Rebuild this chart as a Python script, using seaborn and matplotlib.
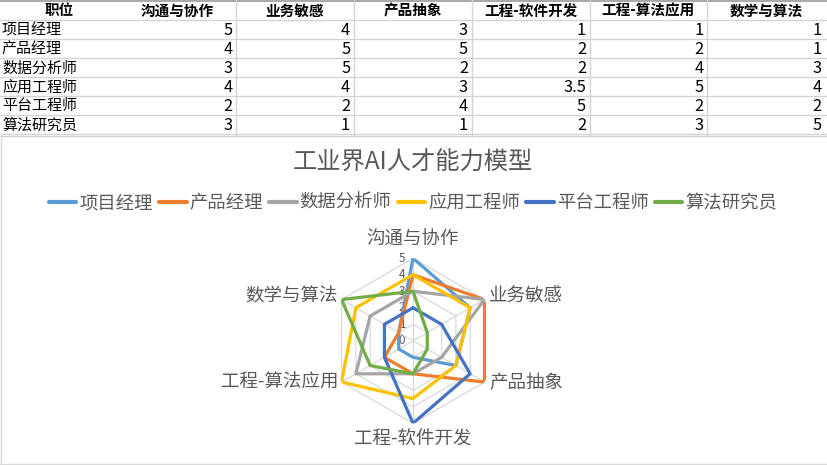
import numpy as np
import pandas as pd
import matplotlib
matplotlib.use("Agg")
import matplotlib.pyplot as plt
import seaborn as sns

# ---------------- data ----------------
columns = ["沟通与协作", "业务敏感", "产品抽象", "工程-软件开发", "工程-算法应用", "数学与算法"]
roles = ["项目经理", "产品经理", "数据分析师", "应用工程师", "平台工程师", "算法研究员"]
pm_vals = [5, 4, 3, 1, 1, 1]
prod_vals = [4, 5, 5, 2, 2, 1]
da_vals = [3, 5, 2, 2, 4, 3]
app_vals = [4, 4, 3, 3.5, 5, 4]
plat_vals = [2, 2, 4, 5, 2, 2]
algo_vals = [3, 1, 1, 2, 3, 5]
series = [pm_vals, prod_vals, da_vals, app_vals, plat_vals, algo_vals]
colors = ["#5B9BD5", "#ED7D31", "#A5A5A5", "#FFC000", "#4472C4", "#70AD47"]
title = "工业界AI人才能力模型"
header_first = "职位"
rticks = [0, 1, 2, 3, 4, 5]

sns.set_theme(style="white")
plt.rcParams["font.family"] = ["Noto Sans CJK SC", "DejaVu Sans"]

W, H = 827, 465
fig = plt.figure(figsize=(W / 100, H / 100), dpi=100)
fig.patch.set_facecolor("white")

# background axes in pixel coordinates (table + labels)
bg = fig.add_axes([0, 0, 1, 1])
bg.set_xlim(0, W)
bg.set_ylim(H, 0)
bg.axis("off")

# ---------------- table ----------------
col_w = 117.9
row_h = 19
head_h = 20
grid_c = "#D4D4D4"
nrows = len(roles)
table_bottom = head_h + nrows * row_h
bg.plot([0, W], [0.8, 0.8], color="#9A9A9A", lw=1.2)
for i in range(nrows + 1):
    y = head_h + i * row_h
    bg.plot([0, W], [y, y], color=grid_c, lw=1)
bg.plot([0, W], [table_bottom + 2.3, table_bottom + 2.3], color=grid_c, lw=1)
for j in range(2, 7):
    x = j * col_w
    bg.plot([x, x], [0, table_bottom + 3], color=grid_c, lw=1)

headers = [header_first] + columns
for j, h in enumerate(headers):
    bg.text(j * col_w + col_w / 2, head_h / 2 + 0.5, h, ha="center", va="center",
            fontsize=10.5, fontweight="bold", color="black")
for i, role in enumerate(roles):
    yc = head_h + i * row_h + row_h / 2 + 0.8
    bg.text(2, yc, role, ha="left", va="center", fontsize=10.8, color="black")
    for j, v in enumerate(series[i]):
        txt = f"{v:g}"
        bg.text((j + 2) * col_w - 3.5, yc, txt, ha="right", va="center",
                fontsize=11.8, color="black")

# chart border
bg.plot([1, 1], [138, H], color="#D9D9D9", lw=1)
bg.plot([0, W], [H - 1.2, H - 1.2], color="#D9D9D9", lw=1)

# ---------------- title ----------------
txt_c = "#595959"
bg.text(413, 163, title, ha="center", va="center", fontsize=17.5, color=txt_c)

# ---------------- radar ----------------
cx, cy, R = 413, 340.8, 82.5
pax = fig.add_axes([(cx - R) / W, (H - cy - R) / H, 2 * R / W, 2 * R / H], projection="polar")
pax.set_theta_zero_location("N")
pax.set_theta_direction(-1)
pax.set_ylim(0, 5)
pax.grid(False)
pax.spines["polar"].set_visible(False)
pax.set_xticks([])
pax.set_yticks([])
pax.set_facecolor("none")

n = len(columns)
angles = [2 * np.pi * k / n for k in range(n)]
closed_angles = angles + [2 * np.pi]

# hexagonal gridlines and spokes
for r in rticks[1:]:
    pax.plot(closed_angles, [r] * (n + 1), color="#D9D9D9", lw=0.9, zorder=1)
for a in angles:
    pax.plot([a, a], [0, 5], color="#D9D9D9", lw=0.9, zorder=1)

rows = []
for role, vals in zip(roles, series):
    for a, v in zip(closed_angles, vals + [vals[0]]):
        rows.append({"职位": role, "theta": a, "r": v})
df = pd.DataFrame(rows)

sns.lineplot(data=df, x="theta", y="r", hue="职位", hue_order=roles,
             palette=colors, sort=False, estimator=None, linewidth=2.3,
             ax=pax, legend=True, zorder=3)
pax.set_xlabel("")
pax.set_ylabel("")
pax.set_ylim(0, 5)

leg = pax.get_legend()
handles = leg.legend_handles
labels = [t.get_text() for t in leg.texts]
leg.remove()
for hnd in handles:
    hnd.set_linewidth(3)

fig.legend(handles, labels, loc="center", bbox_to_anchor=(413 / W, 1 - 203 / H),
           ncol=6, frameon=False, fontsize=13.2, handlelength=1.5,
           handletextpad=0.15, columnspacing=0.35, labelcolor=txt_c)

# radial tick labels
for r in rticks:
    bg.text(cx - 11, cy - R * r / 5, str(r), ha="center", va="center",
            fontsize=8.3, color=txt_c)

# category labels
cat_pos = [
    (413, 240, "center"),
    (489, 297, "left"),
    (489, 383, "left"),
    (413, 440, "center"),
    (338, 383, "right"),
    (338, 297, "right"),
]
for (x, y, ha), c in zip(cat_pos, columns):
    bg.text(x, y, c, ha=ha, va="center", fontsize=13.3, color=txt_c)

fig.savefig("out.png", dpi=100, facecolor="white")
